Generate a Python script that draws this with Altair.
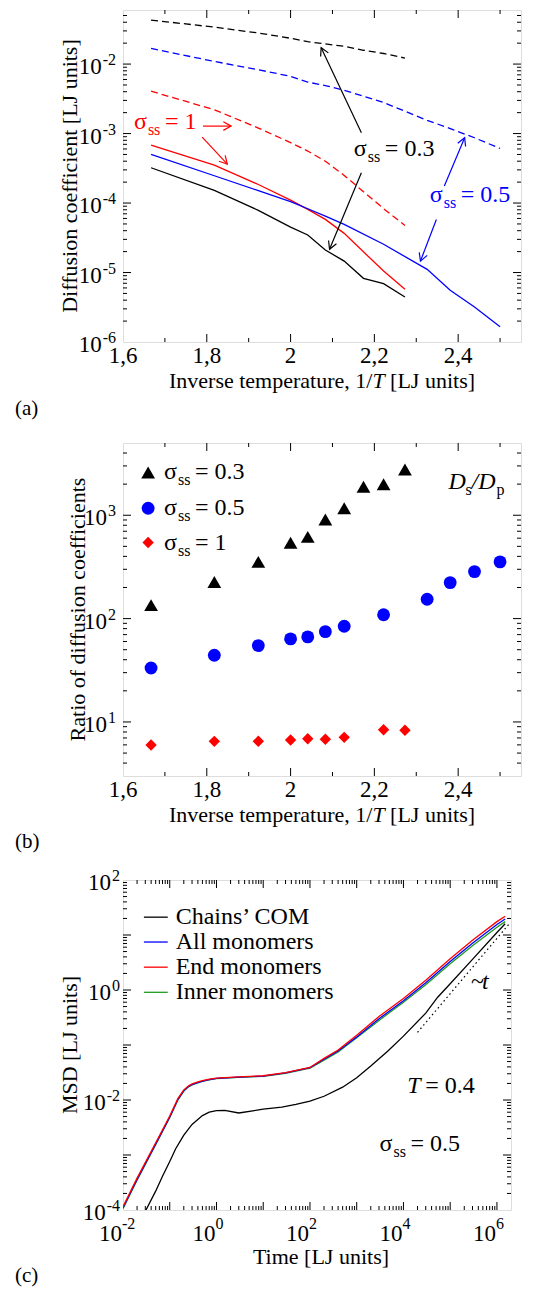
import math
import altair as alt
import pandas as pd

FONT = "Liberation Serif"
BLACK, BLUE, RED, GREEN = "#000000", "#0000ff", "#ff0000", "#1e9b1e"

# ---------------- geometry ----------------
W_AB, H_A, H_B = 398, 332, 333
W_C, H_C = 388, 330
X_AB = [1.6, 2.55]
Y_A = [1e-6, 0.06]
Y_B = [3, 5000]
X_C = [0.01, 2e6]
Y_C = [1e-4, 100]

# ---------------- data: panel (a) ----------------
invT_03 = [1.667, 1.818, 1.923, 2.0, 2.041, 2.083, 2.128, 2.174, 2.222, 2.273]
invT_05 = [1.667, 1.818, 1.923, 2.0, 2.041, 2.083, 2.128, 2.222, 2.326, 2.381, 2.439, 2.5]
invT_1 = [1.667, 1.818, 1.923, 2.0, 2.041, 2.083, 2.128, 2.222, 2.273]

Dp_03 = [3.22e-4, 1.52e-4, 7.85e-5, 4.5e-5, 3.47e-5, 2.11e-5, 1.46e-5, 8.24e-6, 6.9e-6, 4.44e-6]
Ds_03 = [0.043, 0.034, 0.028, 0.0235, 0.021, 0.0195, 0.018, 0.0158, 0.0142, 0.0122]
Dp_05 = [5.02e-4, 2.47e-4, 1.51e-4, 1.045e-4, 8.28e-5, 6.5e-5, 4.93e-5, 2.55e-5, 1.11e-5, 5.55e-6, 3.19e-6, 1.66e-6]
Ds_05 = [0.0168, 0.0109, 0.0083, 0.00665, 0.0055, 0.0049, 0.0042, 0.0028, 0.00155, 0.00118, 0.00087, 0.00061]
Dp_1 = [6.8e-4, 3.5e-4, 1.85e-4, 1.1e-4, 8.1e-5, 5.82e-5, 3.66e-5, 1.05e-5, 5.73e-6]
Ds_1 = [4.07e-3, 2.2e-3, 1.2e-3, 7.4e-4, 5.6e-4, 4.0e-4, 2.5e-4, 8.3e-5, 4.75e-5]

# ---------------- data: panel (b) ----------------
ratio_03 = [135, 226, 354, 541, 618, 908, 1169, 1884, 1996, 2770]
ratio_05 = [33.3, 44.2, 54.8, 63.6, 66.5, 74.8, 84.3, 109, 154, 223, 285, 354]
ratio_1 = [5.99, 6.49, 6.5, 6.7, 6.89, 6.8, 7.1, 8.42, 8.3]

# ---------------- data: panel (c) ----------------
t_mon = [0.01, 0.02, 0.056, 0.1, 0.15, 0.2, 0.25, 0.3, 0.4, 0.5, 0.7, 1, 3, 10, 30, 100, 200, 400,
         1e3, 3e3, 1e4, 3e4, 1e5, 3e5, 1e6, 1.5e6]
msd_all = [1.1e-4, 3.6e-4, 1.9e-3, 4.9e-3, 0.0103, 0.0148, 0.0175, 0.0191, 0.0208, 0.0221, 0.0235, 0.0247,
           0.026, 0.0272, 0.031, 0.0387, 0.055, 0.078, 0.14, 0.30, 0.64, 1.35, 3.3, 7.1, 15.5, 19.5]
msd_end = [1.15e-4, 3.8e-4, 2.0e-3, 5.1e-3, 0.0107, 0.0153, 0.018, 0.0196, 0.0213, 0.0226, 0.0240, 0.025,
           0.0263, 0.0276, 0.0315, 0.039, 0.057, 0.081, 0.15, 0.33, 0.70, 1.5, 3.7, 8.0, 17.5, 22.0]
msd_inner = [1.05e-4, 3.5e-4, 1.85e-3, 4.8e-3, 0.0101, 0.0145, 0.0172, 0.0188, 0.0205, 0.0218, 0.0232, 0.0244,
             0.0258, 0.027, 0.0305, 0.038, 0.053, 0.075, 0.135, 0.28, 0.60, 1.25, 3.0, 6.4, 13.8, 17.5]
t_com = [0.031, 0.05, 0.07, 0.1, 0.134, 0.2, 0.3, 0.5, 0.7, 1, 1.5, 3, 10, 25, 50, 100, 200, 500,
         1e3, 2e3, 4.65e3, 1e4, 3e4, 5.4e4, 1e5, 3e5, 1e6, 1.5e6]
msd_com = [1e-4, 2.2e-4, 4.1e-4, 7.6e-4, 1.3e-3, 2.3e-3, 3.6e-3, 5.2e-3, 6.0e-3, 6.4e-3, 6.5e-3, 5.8e-3,
           6.8e-3, 7.4e-3, 8.3e-3, 9.5e-3, 0.0117, 0.0171, 0.0254, 0.0415, 0.078, 0.145, 0.38, 0.74,
           1.3, 3.6, 11.1, 16.0]
t_dot = [2e4, 1.95e6]
msd_dot = [0.17, 17.0]

legend_c_names = ["Chains\u2019 COM", "All monomers", "End monomers", "Inner monomers"]
legend_c_colors = [BLACK, BLUE, RED, GREEN]

# ---------------- tick labels ----------------
xlab_ab_vals = [1.6, 1.8, 2.0, 2.2, 2.4]
xlab_ab_text = ["1,6", "1,8", "2", "2,2", "2,4"]
ylab_a_vals = [1e-6, 1e-5, 1e-4, 1e-3, 1e-2]
ylab_a_exp = ["-6", "-5", "-4", "-3", "-2"]
ylab_b_vals = [10, 100, 1000]
ylab_b_exp = ["1", "2", "3"]
ylab_c_vals = [1e-4, 1e-2, 1, 100]
ylab_c_exp = ["-4", "-2", "0", "2"]
xlab_c_vals = [1e-2, 1, 1e2, 1e4, 1e6]
xlab_c_exp = ["-2", "0", "2", "4", "6"]

x_major_ab = [1.8, 2.0, 2.2, 2.4]
x_minor_ab = [1.7, 1.9, 2.1, 2.3, 2.5]


def log_major(lo, hi):
    return [10.0 ** e for e in range(-8, 9) if lo < 10.0 ** e < hi]


def log_minor(lo, hi):
    return [k * 10.0 ** e for e in range(-8, 9) for k in range(2, 10) if lo < k * 10.0 ** e < hi]


# ---------------- helpers ----------------
def sc_lin(dom):
    return alt.Scale(domain=dom, nice=False, zero=False)


def sc_log(dom):
    return alt.Scale(type="log", domain=dom, nice=False)


def X(f, s):
    return alt.X(f"{f}:Q", scale=s, axis=None)


def Y(f, s):
    return alt.Y(f"{f}:Q", scale=s, axis=None)


def lin_px(v, dom, size):
    return (v - dom[0]) / (dom[1] - dom[0]) * size


def log_px(v, dom, size):
    return (math.log10(v) - math.log10(dom[0])) / (math.log10(dom[1]) - math.log10(dom[0])) * size


def txt_px(text, x, y, fs, color=BLACK, **kw):
    return alt.Chart(pd.DataFrame({"t": [text]})).mark_text(
        font=FONT, fontSize=fs, color=color, **kw).encode(
        x=alt.value(x), y=alt.value(y), text="t:N")


def line(xs, ys, sx, sy, color, dash=None, width=1.3):
    kw = dict(color=color, strokeWidth=width, clip=True)
    if dash:
        kw["strokeDash"] = dash
    return alt.Chart(pd.DataFrame({"x": xs, "y": ys})).mark_line(**kw).encode(
        x=X("x", sx), y=Y("y", sy))


def frame_ticks(xmaj, xmin, ymaj, ymin, sx, sy, W, H, Lmaj=8, Lmin=4):
    out = []
    for vals, L in ((xmaj, Lmaj), (xmin, Lmin)):
        d = alt.Chart(pd.DataFrame({"v": vals}))
        out.append(d.mark_rule(color=BLACK, strokeWidth=1).encode(
            x=X("v", sx), y=alt.value(H), y2=alt.value(H - L)))
        out.append(d.mark_rule(color=BLACK, strokeWidth=1).encode(
            x=X("v", sx), y=alt.value(0), y2=alt.value(L)))
    for vals, L in ((ymaj, Lmaj), (ymin, Lmin)):
        d = alt.Chart(pd.DataFrame({"v": vals}))
        out.append(d.mark_rule(color=BLACK, strokeWidth=1).encode(
            y=Y("v", sy), x=alt.value(0), x2=alt.value(L)))
        out.append(d.mark_rule(color=BLACK, strokeWidth=1).encode(
            y=Y("v", sy), x=alt.value(W), x2=alt.value(W - L)))
    return out


def exp_width(e, fs):
    return sum(0.333 * fs if c == "-" else 0.5 * fs for c in e)


def ylog_labels(vals, exps, sy, right=-7, fs=23, fse=16):
    df = pd.DataFrame({"v": vals, "e": exps, "w": [round(exp_width(e, fse), 1) for e in exps]})
    out = [alt.Chart(df).mark_text(align="right", baseline="alphabetic", dy=1, font=FONT,
                                   fontSize=fse, color=BLACK).encode(
        y=Y("v", sy), x=alt.value(right), text="e:N")]
    for w in sorted(set(df["w"])):
        sub = df[df["w"] == w]
        out.append(alt.Chart(sub).mark_text(align="right", baseline="alphabetic", dy=10, font=FONT,
                                            fontSize=fs, color=BLACK, text="10").encode(
            y=Y("v", sy), x=alt.value(right - w - 1)))
    return out


def xlog_labels(vals, exps, sx, H, fs=23, fse=16):
    df = pd.DataFrame({"v": vals, "e": exps})
    return [
        alt.Chart(df).mark_text(align="right", baseline="alphabetic", dx=-1, font=FONT, fontSize=fs,
                                color=BLACK, text="10").encode(x=X("v", sx), y=alt.value(H + 31)),
        alt.Chart(df).mark_text(align="left", baseline="alphabetic", dx=-1, font=FONT, fontSize=fse,
                                color=BLACK).encode(x=X("v", sx), y=alt.value(H + 19), text="e:N"),
    ]


def xlin_labels(vals, texts, sx, H, fs=23):
    df = pd.DataFrame({"v": vals, "t": texts})
    return [alt.Chart(df).mark_text(align="center", baseline="alphabetic", font=FONT, fontSize=fs,
                                    color=BLACK).encode(x=X("v", sx), y=alt.value(H + 21), text="t:N")]


def sigma_labels(xs, ys, texts, sx, sy, color, fs=24, fss=16):
    base = alt.Chart(pd.DataFrame({"x": xs, "y": ys, "t": texts}))
    enc = dict(x=X("x", sx), y=Y("y", sy))
    return [
        base.mark_text(text="\u03c3", align="left", baseline="alphabetic", font=FONT, fontSize=fs,
                       color=color).encode(**enc),
        base.mark_text(text="ss", align="left", baseline="alphabetic", dx=14, dy=6, font=FONT,
                       fontSize=fss, color=color).encode(**enc),
        base.mark_text(align="left", baseline="alphabetic", dx=31, font=FONT, fontSize=fs,
                       color=color).encode(text="t:N", **enc),
    ]


HEAD = "M -1 -0.55 L 0 0 L -1 0.55"


def arrows(ax1, ay1, ax2, ay2, colors, sx, sy, xpx, ypx):
    out = []
    for x1, y1, x2, y2, c in zip(ax1, ay1, ax2, ay2, colors):
        df = pd.DataFrame({"x1": [x1], "y1": [y1], "x2": [x2], "y2": [y2]})
        ang = math.degrees(math.atan2(ypx(y2) - ypx(y1), xpx(x2) - xpx(x1))) % 360
        out.append(alt.Chart(df).mark_rule(color=c, strokeWidth=1.2).encode(
            x=X("x1", sx), y=Y("y1", sy), x2="x2:Q", y2="y2:Q"))
        out.append(alt.Chart(df).mark_point(shape=HEAD, filled=False, size=240, angle=round(ang, 2),
                                            color=c, strokeWidth=1.2, opacity=1).encode(
            x=X("x2", sx), y=Y("y2", sy)))
    return out


def invT_title(W, y):
    x0 = W / 2 - 153
    return [
        txt_px("Inverse temperature, 1/", x0, y, 22, align="left", baseline="middle"),
        txt_px("T", x0 + 203.4, y, 22, align="left", baseline="middle", fontStyle="italic"),
        txt_px("[LJ units]", x0 + 203.4 + 12.2 + 5.5, y, 22, align="left", baseline="middle"),
    ]


# ================= panel (a) =================
sx_ab = sc_lin(X_AB)
sy_a = sc_log(Y_A)
xpx_a = lambda v: lin_px(v, X_AB, W_AB)
ypx_a = lambda v: H_A - log_px(v, Y_A, H_A)

DASH = [7, 4]
layers_a = [
    line(invT_03, Ds_03, sx_ab, sy_a, BLACK, DASH),
    line(invT_05, Ds_05, sx_ab, sy_a, BLUE, DASH),
    line(invT_1, Ds_1, sx_ab, sy_a, RED, DASH),
    line(invT_1, Dp_1, sx_ab, sy_a, RED),
    line(invT_05, Dp_05, sx_ab, sy_a, BLUE),
    line(invT_03, Dp_03, sx_ab, sy_a, BLACK),
]
layers_a += frame_ticks(x_major_ab, x_minor_ab, log_major(*Y_A), log_minor(*Y_A), sx_ab, sy_a, W_AB, H_A)
layers_a += ylog_labels(ylab_a_vals, ylab_a_exp, sy_a)
layers_a += xlin_labels(xlab_ab_vals, xlab_ab_text, sx_ab, H_A)
layers_a += invT_title(W_AB, H_A + 39)
layers_a.append(txt_px("Diffusion coefficient [LJ units]", -53, H_A / 2, 22, angle=270,
                       align="center", baseline="middle"))
# annotations
layers_a += sigma_labels([1.626], [1.15e-3], ["= 1"], sx_ab, sy_a, RED)
layers_a += sigma_labels([2.151], [4.74e-4], ["= 0.3"], sx_ab, sy_a, BLACK)
layers_a += sigma_labels([2.332], [1.04e-4], ["= 0.5"], sx_ab, sy_a, BLUE)
arr_a_x1 = [1.791, 1.789, 2.169, 2.169, 2.348, 2.367]
arr_a_y1 = [1.28e-3, 8.9e-4, 1.03e-3, 2.73e-4, 5.8e-5, 1.76e-4]
arr_a_x2 = [1.858, 1.849, 2.073, 2.093, 2.310, 2.4155]
arr_a_y2 = [1.28e-3, 3.64e-4, 0.0172, 2.16e-5, 1.46e-5, 8.7e-4]
arr_a_col = [RED, RED, BLACK, BLACK, BLUE, BLUE]
layers_a += arrows(arr_a_x1, arr_a_y1, arr_a_x2, arr_a_y2, arr_a_col, sx_ab, sy_a, xpx_a, ypx_a)
layers_a.append(txt_px("(a)", -108, H_A + 67, 21, align="left", baseline="middle"))
chart_a = alt.layer(*layers_a).properties(width=W_AB, height=H_A)

# ================= panel (b) =================
sy_b = sc_log(Y_B)
layers_b = [
    alt.Chart(pd.DataFrame({"x": invT_03, "y": ratio_03})).mark_point(
        shape="triangle-up", filled=True, size=190, color=BLACK, opacity=1).encode(x=X("x", sx_ab), y=Y("y", sy_b)),
    alt.Chart(pd.DataFrame({"x": invT_05, "y": ratio_05})).mark_point(
        shape="circle", filled=True, size=165, color=BLUE, opacity=1).encode(x=X("x", sx_ab), y=Y("y", sy_b)),
    alt.Chart(pd.DataFrame({"x": invT_1, "y": ratio_1})).mark_point(
        shape="diamond", filled=True, size=130, color=RED, opacity=1).encode(x=X("x", sx_ab), y=Y("y", sy_b)),
]
layers_b += frame_ticks(x_major_ab, x_minor_ab, log_major(*Y_B), log_minor(*Y_B), sx_ab, sy_b, W_AB, H_B)
layers_b += ylog_labels(ylab_b_vals, ylab_b_exp, sy_b)
layers_b += xlin_labels(xlab_ab_vals, xlab_ab_text, sx_ab, H_B)
layers_b += invT_title(W_AB, H_B + 39)
layers_b.append(txt_px("Ratio of diffusion coefficients", -45, H_B / 2, 22, angle=270,
                       align="center", baseline="middle"))
# legend
leg_b_sym_x = 1.66
leg_b_sym_y = [2590, 1169, 545]
leg_b_txt_x = 1.698
leg_b_txt_y = [2218, 1000, 466]
leg_b_txt = ["= 0.3", "= 0.5", "= 1"]
for shp, col, sz, yv in zip(["triangle-up", "circle", "diamond"], [BLACK, BLUE, RED], [190, 165, 130], leg_b_sym_y):
    layers_b.append(alt.Chart(pd.DataFrame({"x": [leg_b_sym_x], "y": [yv]})).mark_point(
        shape=shp, filled=True, size=sz, color=col, opacity=1).encode(x=X("x", sx_ab), y=Y("y", sy_b)))
layers_b += sigma_labels([leg_b_txt_x] * 3, leg_b_txt_y, leg_b_txt, sx_ab, sy_b, BLACK)
# D_s / D_p
dsdp = alt.Chart(pd.DataFrame({"x": [2.377], "y": [1800]}))
for t, dx, dy, fs, st in [("D", 0, 0, 24, "italic"), ("s", 17, 6, 16, "normal"),
                          ("/D", 23, 0, 24, "italic"), ("p", 48, 6, 16, "normal")]:
    layers_b.append(dsdp.mark_text(text=t, dx=dx, dy=dy, align="left", baseline="alphabetic", font=FONT,
                                   fontSize=fs, fontStyle=st, color=BLACK).encode(x=X("x", sx_ab), y=Y("y", sy_b)))
layers_b.append(txt_px("(b)", -108, H_B + 66, 21, align="left", baseline="middle"))
chart_b = alt.layer(*layers_b).properties(width=W_AB, height=H_B)

# ================= panel (c) =================
sx_c = sc_log(X_C)
sy_c = sc_log(Y_C)
layers_c = [
    line(t_dot, msd_dot, sx_c, sy_c, BLACK, [1.5, 3], 1.2),
    line(t_com, msd_com, sx_c, sy_c, BLACK),
    line(t_mon, msd_inner, sx_c, sy_c, GREEN),
    line(t_mon, msd_all, sx_c, sy_c, BLUE),
    line(t_mon, msd_end, sx_c, sy_c, RED),
]
layers_c += frame_ticks(log_major(*X_C), log_minor(*X_C), log_major(*Y_C), log_minor(*Y_C),
                        sx_c, sy_c, W_C, H_C, Lmaj=8, Lmin=4)
layers_c += ylog_labels(ylab_c_vals, ylab_c_exp, sy_c, right=-3)
layers_c += xlog_labels(xlab_c_vals, xlab_c_exp, sx_c, H_C)
layers_c.append(txt_px("Time [LJ units]", W_C / 2 + 4, H_C + 47, 22, align="center", baseline="middle"))
layers_c.append(txt_px("MSD [LJ units]", -53, H_C / 2, 22, angle=270, align="center", baseline="middle"))
# legend
leg_c = pd.DataFrame({"x1": [0.028] * 4, "x2": [0.0906] * 4, "xt": [0.134] * 4,
                      "y": [21.1, 7.45, 2.6, 0.908], "name": legend_c_names, "col": legend_c_colors})
layers_c.append(alt.Chart(leg_c).mark_rule(strokeWidth=1.3).encode(
    x=X("x1", sx_c), x2="x2:Q", y=Y("y", sy_c),
    color=alt.Color("name:N", scale=alt.Scale(domain=legend_c_names, range=legend_c_colors), legend=None)))
layers_c.append(alt.Chart(leg_c).mark_text(align="left", baseline="middle", font=FONT, fontSize=24,
                                           color=BLACK).encode(x=X("xt", sx_c), y=Y("y", sy_c), text="name:N"))
# annotations
tl = alt.Chart(pd.DataFrame({"x": [2.8e5], "y": [1.06]}))
layers_c.append(tl.mark_text(text="~", align="left", baseline="alphabetic", font=FONT, fontSize=24,
                             color=BLACK).encode(x=X("x", sx_c), y=Y("y", sy_c)))
layers_c.append(tl.mark_text(text="t", dx=11, align="left", baseline="alphabetic", font=FONT, fontSize=24,
                             fontStyle="italic", color=BLACK).encode(x=X("x", sx_c), y=Y("y", sy_c)))
tT = alt.Chart(pd.DataFrame({"x": [1.2e4], "y": [0.0135]}))
layers_c.append(tT.mark_text(text="T", align="left", baseline="alphabetic", font=FONT, fontSize=24,
                             fontStyle="italic", color=BLACK).encode(x=X("x", sx_c), y=Y("y", sy_c)))
layers_c.append(tT.mark_text(text="= 0.4", dx=18, align="left", baseline="alphabetic", font=FONT, fontSize=24,
                             color=BLACK).encode(x=X("x", sx_c), y=Y("y", sy_c)))
layers_c += sigma_labels([3.08e3], [1.16e-3], ["= 0.5"], sx_c, sy_c, BLACK)
layers_c.append(txt_px("(c)", -108, H_C + 66, 21, align="left", baseline="middle"))
chart_c = alt.layer(*layers_c).properties(width=W_C, height=H_C)

top = alt.vconcat(chart_a, chart_b, spacing=22)
chart = alt.vconcat(top, chart_c, spacing=14).properties(
    padding={"left": 14, "top": 9, "right": 0, "bottom": 0}
).configure_view(stroke=BLACK, strokeWidth=1.6).configure(background="white")

chart.save("out.html", embed_options={"renderer": "svg", "actions": False})
